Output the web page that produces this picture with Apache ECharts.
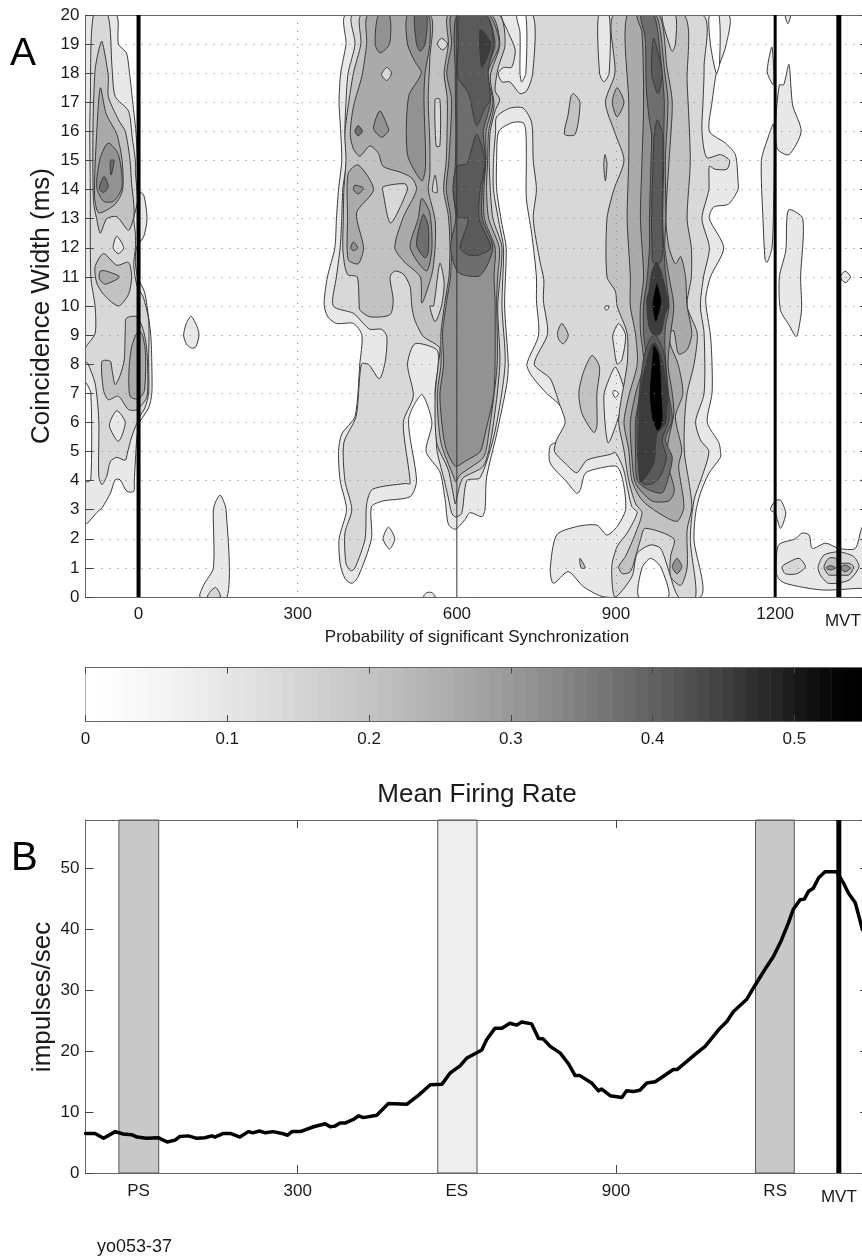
<!DOCTYPE html>
<html>
<head>
<meta charset="utf-8">
<title>Coincidence width and mean firing rate</title>
<script src="https://cdn.jsdelivr.net/npm/echarts@6/dist/echarts.min.js"></script>
<style>
html, body { margin: 0; padding: 0; background: #fff; overflow: hidden; }
#main { width: 862px; height: 1257px; }
</style>
</head>
<body>
<div id="main"></div>
<script>
// contour bands: [level, [[time ms, width ms], ...]], painted in order
const leftRings = [
  [1, [[-100,20],[-42,20],[-38,19],[-23,18.7],[-17,18],[-11,17],[-5,16],[-2,15],[0,14],[10,13.8],[16,13],[10,12.4],[-4,12],[-6,11.5],[-2,11],[11,10.5],[16,10],[23,9],[25,8],[25,7],[19,6.5],[2,6],[-3,5.5],[-5,5],[-8,4],[-9,3.63],[-22,3.63],[-35,4.03],[-44,4.03],[-53,3.57],[-69,3.06],[-79,2.9],[-96,2.54],[-100,2.54]]],
  [0, [[-100,7.35],[-90,7],[-90,4.03],[-100,3.97]]],
  [2, [[-85,20],[-58,20],[-50,18.2],[-44,17.2],[-19,16.7],[-12,15.8],[-6,15],[-6,14.6],[-2,13.6],[-9,13],[-6,12.5],[-6,12],[-9,11.4],[-3,10.7],[9,10.3],[19,9.5],[19,8],[19,7],[12,6.5],[2,6.2],[-13,5.5],[-21,4.95],[-25,4.7],[-41,4.8],[-53,4.66],[-60,4.15],[-69,3.86],[-75,4.15],[-75,6.1],[-82,7.35],[-96,8.04],[-100,8.1],[-100,8.56],[-82,9.05],[-82,10],[-90,11],[-91,14],[-92,16],[-91,17]]],
  [3, [[-69,19.1],[-57,17.9],[-57,17.2],[-38,16.4],[-25,16],[-16,15],[-13,14.2],[-9,13.5],[-9,13.07],[-19,12.6],[-41,13.07],[-60,13],[-72,12.5],[-79,13],[-85,13.6],[-86,16],[-82,18.1],[-75,18.8]]],
  [4, [[-72,17.5],[-61,16.6],[-41,15.9],[-31,15],[-30,14],[-44,13.5],[-75,13.2],[-83,13.8],[-79,15.9]]],
  [5, [[-57,15.6],[-38,15.2],[-31,14.1],[-47,13.6],[-66,13.6],[-79,14.1],[-72,15.1]]],
  [6, [[-53,15],[-46,15],[-52,14.5]]],
  [6, [[-65,14.45],[-57,14.1],[-66,13.9],[-74,14.05]]],
  [1, [[-41,12.4],[-28,12],[-38,11.8],[-48,12]]],
  [3, [[-66,11.8],[-41,11.4],[-19,11.5],[-13,11],[-19,10.4],[-38,10],[-66,10.4],[-79,10.8],[-82,11.35]]],
  [4, [[-72,11.2],[-61,11.2],[-36,11],[-63,10.75],[-74,10.95]]],
  [1, [[-41,6.4],[-25,6],[-38,5.35],[-55,5.9]]],
  [3, [[-69,8.1],[-53,8.1],[-50,7.8],[-44,7.3],[-35,7.6],[-27,8.15],[-25,9.2],[-23,9.58],[-3,9.63],[10,9.1],[16,8.4],[16,6.9],[-3,6.44],[-19,6.44],[-38,6.9],[-57,6.78],[-66,7.1]]],
  [4, [[-3,9.07],[6,9.07],[13,8.4],[11,7.1],[0,6.8],[-16,6.9],[-18,7.8],[-13,8.6]]]
];

const outerRings = [
  [1, [[392,20],[391,19],[381,18],[378,17],[381,16],[383,15],[377,14],[373,13],[370,12],[356,11],[350,10.2],[351,9.9],[358,9.6],[373,9.4],[405,9.4],[421,9],[417,8],[408,6.2],[383,5.6],[377,5],[380,4],[392,3],[378,2],[380,1.15],[389,.64],[402,.47],[414,.7],[439,2],[439,3.1],[461,3.3],[512,3.45],[524,4],[509,6.1],[534,6.95],[553,6],[542,5],[568,4.3],[578,3.33],[584,2.5],[597,2.33],[615,2.65],[625,2.9],[647,2.76],[653,3],[656,4.1],[675,5.6],[694,7.3],[697,8],[690,10],[693,12],[685,12.8],[675,14],[675,15],[679,16],[704,16.3],[725,16.3],[730,16],[731,15],[731,13.7],[741,12.5],[750,11],[750,10.2],[754,9],[732,8],[741,7.6],[769,7],[791,6.65],[810,6.1],[795,5.4],[776,5.2],[776,4.6],[807,3.96],[826,3.56],[833,3.7],[842,4.25],[867,4.42],[902,4.48],[914,3.9],[918,3],[902,2.42],[883,2.13],[864,2.47],[826,2.42],[788,2.13],[776,.93],[782,.47],[810,.87],[839,.35],[879,0],[1059,0],[1047,1.96],[1050,2.88],[1059,3.56],[1075,4.25],[1097,4.8],[1097,5],[1094,5.3],[1072,6],[1081,7],[1081,8],[1078,9],[1069,10.2],[1078,11],[1103,12],[1076,13],[1084,13.4],[1112,13.5],[1130,14],[1130,14.3],[1125,15.2],[1106,15.6],[1076,16],[1081,17],[1089,18],[1095,18.3],[1108,19],[1110,20]]],
  [0, [[1076,20],[1078,19],[1089,18],[1095,18.3],[1094,20]]],
  [0, [[943,0],[949,1],[965,1.33],[984,1.04],[999,0]]],
  [2, [[405,20],[408,19],[395,18],[391,17],[389,16],[392,15],[385,14],[383,13],[380,12],[373,11],[367,10],[405,9.75],[424,9.4],[436,9.2],[458,9.2],[468,8.95],[465,8.1],[454,7.5],[433,8],[420,8],[410,6.2],[387,5.3],[389,4],[402,3],[389,2.2],[391,1.15],[400,.9],[408,1],[427,2],[430,3.2],[441,3.7],[502,3.9],[512,3.9],[499,6],[518,6.9],[507,8],[521,8.7],[562,8.5],[565,8],[559,7.1],[562,6.2],[562,5.1],[575,4.1],[584,3.4],[590,2.9],[597,2.75],[609,2.87],[619,4],[644,4.1],[672,5.7],[691,8],[685,10],[688,12],[680,12.8],[669,14],[669,15],[673,16],[675,16.5],[700,16.8],[725,16.8],[741,16.3],[744,15],[750,14],[744,13],[757,11.5],[764,10.9],[763,10.2],[771,9.05],[746,8],[776,7.5],[793,6.65],[804,6],[788,5.4],[784,5],[804,4.6],[826,4.27],[845,4.7],[889,4.9],[899,4.96],[914,4.4],[921,3.8],[930,3.1],[940,2.9],[921,2.2],[902,1.73],[892,1.04],[898,0],[930,.7],[940,1.5],[965,1.79],[984,1.67],[999,.93],[1018,0],[1050,0],[1040,1.96],[1047,3.33],[1062,4.13],[1075,5],[1059,5.4],[1050,6.03],[1066,7],[1066,9.06],[1059,10],[1065,11],[1076,12],[1062,13],[1075,14],[1076,14.8],[1087,14.7],[1109,14.7],[1114,15],[1097,15.2],[1071,15.1],[1062,16],[1064,17],[1066,18.2],[1061,20]]],
  [1, [[685,20],[697,19.4],[710,18.8],[703,18.2],[688,18.2],[678,18],[685,17.7],[700,17.7],[719,17.3],[732,17.4],[743,18],[743,20]]],
  [0, [[713,20],[719,19.4],[719,18],[722,17.7],[730,18],[730,20]]],
  [1, [[867,20],[869,18],[877,17.7],[887,18],[887,20]]],
  [1, [[905,9.4],[918,9],[911,8.15],[902,8],[896,8.6],[894,9]]],
  [1, [[899,7.9],[915,7.1],[905,6.2],[885,5.3],[877,6.9],[886,7.45]]],
  [0, [[896,7.1],[905,7],[899,6.85],[894,7]]],
  [1, [[880,10],[887,10],[883,9.85],[879,9.9]]],
  [3, [[879,15.2],[883,14.9],[880,14.3],[877,14.8]]],
  [3, [[820,17.3],[832,17],[823,15.9],[803,15.9],[810,16.6],[815,17.2]]],
  [3, [[798,9.4],[810,9],[801,8.7],[792,8.85],[790,9.1]]],
  [3, [[855,8.3],[869,7.9],[864,7],[864,5.85],[858,5.65],[836,6.3],[830,7],[839,7.75]]],
  [3, [[832,1.33],[842,1],[834,1]]]
];

const midRings = [
  [3, [[421,20],[419,19],[405,18],[395,16.85],[389,15.9],[391,15],[387,14],[386,13],[385,12],[389,11.35],[395,11.07],[412,11],[416,10],[417,9.86],[436,9.63],[474,9.7],[480,10.2],[474,11],[483,11.2],[499,11.1],[512,10.66],[515,10],[521,9.5],[537,8.95],[559,8.7],[568,8.55],[565,8],[559,6.9],[562,5.3],[584,4.36],[594,3.45],[597,3.2],[605,3.8],[612,4.1],[650,4.5],[666,5.6],[681,8],[677,10],[685,12],[668,13],[663,14],[661,15],[663,16],[672,16.7],[681,17.1],[672,17.4],[678,18.2],[691,19],[678,20]]],
  [4, [[433,20],[430,19],[421,17.9],[405,16.85],[399,15.9],[405,15.4],[417,15.15],[436,15.5],[452,15.25],[461,14.8],[493,14.6],[515,14.4],[524,14],[499,13.05],[483,12],[502,11.5],[531,11],[534,10.1],[553,11.1],[559,12],[559,12.95],[546,14],[549,14.5],[549,15.6],[546,17.1],[549,18.5],[549,20]]],
  [4, [[414,14.85],[443,14],[411,13.2],[424,12],[414,11.45],[395,11.6],[394,13.05],[395,14.55]]],
  [5, [[408,14.15],[424,14.05],[414,13.85],[405,14]]],
  [5, [[405,12.2],[413,12],[405,11.9],[400,12]]],
  [5, [[507,20],[507,19],[521,18.4],[533,18],[509,17.2],[507,15.2],[534,14.3],[541,14.8],[538,17.1],[540,18],[549,19],[546,20]]],
  [6, [[521,20],[524,19],[531,18.75],[540,19],[543,20]]],
  [5, [[452,20],[446,19],[455,18.7],[473,19],[473,20]]],
  [5, [[455,16.7],[471,16.1],[471,16],[458,15.8],[443,16.1]]],
  [6, [[414,16.2],[422,16],[414,15.85],[408,16]]],
  [5, [[534,13.7],[549,13.2],[553,12],[543,11.2],[512,12],[527,13]]],
  [6, [[537,13.15],[546,12.75],[546,11.85],[540,11.65],[524,12.1],[531,12.85]]],
  [2, [[461,14.1],[502,14.2],[507,14],[475,12.85],[461,13.9]]],
  [2, [[468,18.2],[477,18],[468,17.75],[458,17.95]]],
  [2, [[571,19.2],[583,19],[573,18.8],[563,19]]],
  [2, [[559,17.1],[568,17.1],[568,15.5],[561,15.5]]],
  [2, [[559,14.5],[563,13.9],[554,13.95]]],
  [2, [[568,11.47],[576,10.8],[571,10],[559,9.46],[549,10],[556,10]]],
  // band around 600 ms
  [4, [[584,20],[584,19],[576,18],[582,17.1],[580,15],[575,14],[584,13.1],[587,12],[585,11],[578,10.2],[570,9.06],[570,8],[563,6.9],[570,5.3],[594,4.13],[598,3.96],[606,4.2],[650,4.8],[660,5.6],[676,8],[675,10.2],[677,11],[680,12],[660,13],[656,14],[658,15],[660,16],[670,16.9],[663,17.9],[681,19],[665,20]]],
  [5, [[590,20],[590,19],[581,18],[590,17.1],[585,15],[580,14],[588,13.1],[590,12],[588,11],[581,10.2],[573,9.06],[575,8],[568,6.9],[578,5.2],[597,4.5],[619,4.7],[644,5],[653,5.6],[669,6.9],[672,8],[672,10.2],[670,11],[672,12],[652,13],[651,14],[655,15],[655,16],[668,17],[658,18],[680,19],[660,20]]],
  [6, [[600,20],[597,17.9],[598,16],[597,14.8],[593,14],[598,13],[588,12],[603,11.15],[644,11.05],[668,12],[648,13],[648,14],[654,15],[650,16],[663,17],[655,18],[672,19],[655,20]]],
  [7, [[606,20],[603,19],[601,17.9],[622,17.3],[637,16.2],[653,16.8],[663,17.1],[659,18.1],[669,19],[656,20]]],
  [7, [[637,15.9],[653,15],[644,14],[642,13],[664,12],[641,11.75],[622,11.75],[606,12],[622,13],[603,13.05],[593,14],[600,14.8],[619,14.9]]],
  [8, [[644,19.5],[664,19],[647,18.2]]]
];

const peakRings = [
  [3, [[896,20],[898,18],[880,17],[899,15.9],[915,15],[896,14],[883,13],[883,11],[899,10.5],[902,10],[921,9.06],[921,8],[905,6.1],[915,5.05],[924,4],[937,3.2],[949,2.9],[937,2.2],[918,1.4],[905,1.04],[912,.8],[927,.87],[937,1.4],[946,1.96],[955,2.36],[1009,2],[1003,1.4],[1003,.7],[1022,.4],[1034,1],[1034,2.3],[1043,3.1],[1037,4],[1029,4.94],[1029,6],[1034,7],[1047,8],[1053,9.06],[1034,10],[1042,11],[1042,12],[1034,13],[1040,15],[1034,17.7],[1028,20]]],
  [4, [[893,17],[902,17.5],[915,17],[902,16.5]]],
  [4, [[921,20],[924,17],[924,15],[921,13],[927,11],[927,10],[937,9],[940,8],[924,6.9],[915,6],[924,5.05],[930,4],[949,3.33],[981,2.88],[1015,2.6],[1028,3.1],[1018,4.5],[1024,5.05],[1012,6.2],[1026,7],[1017,8],[1002,8.7],[1002,9.1],[1009,9.15],[1018,8.35],[1034,8.5],[1043,9.06],[1034,10],[1031,11],[1022,11.7],[1012,11.45],[1000,12],[994,13],[1000,15],[1006,17],[996,18.2],[981,20]]],
  [2, [[987,20],[1000,19],[1006,18.75],[1012,19],[1012,20]]],
  [5, [[940,20],[949,19.4],[952,17],[949,15],[946,13],[952,11],[946,10],[946,9.15],[952,8],[937,7],[927,6],[930,4.8],[937,3.9],[968,3.3],[999,3.3],[1009,3.56],[1009,3.8],[996,4.7],[999,5.4],[1009,6.3],[1006,7],[998,8],[1003,9.06],[1009,10],[1000,11],[992,12],[994,13],[993,15],[998,17],[992,18],[976,20]]],
  [6, [[947,20],[955,19.2],[957,17.5],[962,16.5],[967,15.9],[966,15],[963,13],[963,12],[959,11],[952,10],[952,9.06],[957,8],[946,7],[937,6.1],[937,4.94],[940,4],[962,3.68],[987,3.58],[999,4.13],[1006,4.8],[993,5.4],[1006,6.1],[999,7],[994,8],[992,8.66],[993,9.3],[1000,10],[994,11],[990,12],[988,13],[990,15],[990,15.9],[991,17],[987,18],[972,20]]],
  [7, [[971,19.2],[987,18],[979,17.3],[968,17.9],[967,18.5]]],
  [7, [[978,16.4],[988,15.9],[988,15],[987,13],[988,12],[984,11.5],[970,11.5],[968,12],[967,13],[970,15],[972,15.9]]],
  [7, [[975,9],[990,8.4],[998,7],[1000,6.1],[987,5.4],[995,4.8],[985,4.2],[970,3.9],[950,3.9],[941,4.8],[940,6],[944,7],[952,8.2],[965,8.9]]],
  [8, [[977,11.5],[988,11],[999,10],[993,9.75],[984,9.06],[971,9],[962,9.3],[958,10.2],[962,10.5],[968,11.2]]],
  [9, [[977,10.8],[985,10.3],[985,10],[975,9.43],[968,10],[971,10.4]]],
  [8, [[975,8.7],[987,8.15],[996,7],[993,5.97],[977,5.6],[971,4.6],[946,3.96],[943,5.6],[946,7],[955,7.9],[968,8.7]]],
  [9, [[971,8.67],[982,8.3],[987,6.8],[988,6],[979,5.7],[968,6.1],[963,7],[967,8]]],
  [5, [[1006,1.04],[1015,1.33],[1024,1.04],[1015,.8]]]
];

const islandRings = [
  [1, [[99,9.65],[110,9.3],[114,9],[108,8.6],[100,8.55],[90,8.7],[85,9],[90,9.4]]],
  [1, [[154,3.5],[165,3],[167,0],[116,0],[123,.42],[141,1],[141,3],[146,3.3]]],
  [2, [[130,0],[136,.2],[145,.33],[151,.2],[154,0]]],
  [1, [[537,0],[543,.15],[553,.15],[559,0]]],
  [1, [[471,2.4],[483,2],[473,1.65],[461,2]]],
  [1, [[1194,18.9],[1197,17.6],[1185,18.05]]],
  [1, [[1226,18.3],[1233,16.9],[1249,16],[1226,15.2],[1204,15.4],[1201,16.3],[1208,17.6],[1216,17.6]]],
  [1, [[1219,20],[1224,19.7],[1229,20]]],
  [1, [[1197,16.25],[1185,15.7],[1174,15],[1177,13],[1181,11.6],[1185,11.5],[1194,12],[1197,13.5]]],
  [1, [[1225,13.3],[1252,13],[1248,11],[1250,10],[1248,9.6],[1240,8.95],[1226,9.35],[1210,9.86],[1208,11],[1220,11.9]]],
  [1, [[1332,11.2],[1342,11],[1332,10.8],[1323,11]]],
  [1, [[1210,3.33],[1220,2.88],[1210,2.36],[1200,2.88],[1191,3],[1200,3.3]]],
  [1, [[1375,4.5],[1364,4],[1375,3.5]]],
  [1, [[1207,1.8],[1238,2],[1251,2.2],[1264,2.13],[1270,1.67],[1295,1.85],[1320,1.67],[1351,1.67],[1364,2.4],[1375,2.4],[1375,.3],[1358,.3],[1289,.24],[1219,.47],[1204,.7],[1202,1.2]]],
  [2, [[1213,1.04],[1226,1.2],[1245,1.33],[1257,1.04],[1241,.8],[1219,.8]]],
  [2, [[1281,1.04],[1292,1.44],[1320,1.55],[1348,1.39],[1358,1.04],[1339,.58],[1301,.47],[1285,.76]]],
  [3, [[1292,1.04],[1301,1.33],[1314,1.33],[1320,1.16],[1339,1.16],[1348,1.04],[1339,.76],[1320,.76],[1301,.76]]],
  [5, [[1296,1],[1304,1.08],[1314,1],[1304,.93]]],
  [5, [[1323,1],[1332,1.1],[1342,1],[1332,.87]]]
];

const contourRings = [].concat(leftRings, outerRings, midRings, peakRings, islandRings);

// grey of each contour level, 0 is below the lowest contour
const levelColors = ['#ffffff', '#e8e8e8', '#d8d8d8', '#c2c2c2', '#aaaaaa', '#929292', '#6e6e6e', '#5a5a5a', '#3c3c3c', '#000000'];

const colorbarGrays = [255,254,252,250,248,246,244,241,239,236,233,230,228,225,222,219,216,213,210,207,204,201,198,195,191,188,184,181,177,174,170,166,162,158,154,150,146,141,137,132,127,122,117,112,107,102,97,91,86,80,74,68,62,55,48,42,36,29,22,16,10,5,2,0];
const colorbarMax = 0.552;

const topTickValues = [0, 300, 600, 900, 1200, 1320];
const topTickLabels = ['0', '300', '600', '900', '1200', '{m|MVT}'];
const bottomTickLabels = ['PS', '300', 'ES', '900', 'RS', '{m|MVT}'];

const topEvents = [[0, 4], [600, 1], [1200, 3], [1320, 5]];
const rateEvents = [[1320, 5]];

const rateWindows = [
  [-37, 38, '#c8c8c8'],
  [564, 638, '#eeeeee'],
  [1163, 1236, '#c8c8c8']
];

const firingRate = [
  [-100,6.5],[-82,6.5],[-66,5.7],[-44,6.8],[-29,6.4],[-13,6.3],[-3,5.9],[15,5.7],[37,5.8],[54,5.1],[69,5.4],[78,6],[94,6.1],[110,5.7],[125,5.8],[138,6.1],[144,5.9],[160,6.5],[173,6.5],[191,5.9],[207,6.8],[215,6.6],[228,6.9],[239,6.6],[254,6.8],[270,6.5],[281,6.2],[289,6.8],[305,6.8],[330,7.6],[352,8.1],[361,7.6],[370,7.7],[380,8.2],[389,8.2],[405,8.8],[415,9.4],[424,9.1],[449,9.5],[471,11.4],[506,11.3],[528,12.8],[550,14.5],[572,14.6],[587,16.4],
  [606,17.6],[619,18.9],[634,19.6],[647,20.2],[656,21.9],[672,23.8],[685,23.8],[700,24.6],[713,24.3],[722,24.8],[741,24.5],[754,22.1],[763,22],[776,20.8],[795,19.7],[810,18],[823,16],[832,16],[854,14.8],[867,13.5],[873,13.8],[889,12.7],[911,12.4],[920,13.5],[933,13.4],[945,13.6],[958,14.8],[974,15],[1008,17],[1015,17],[1033,18.3],[1052,19.7],[1068,20.8],[1096,23.8],[1109,24.9],[1121,26.5],[1146,28.5],[1159,30.4],[1184,33.9],[1197,35.6],[1212,38.3],[1225,41.1],[1234,43.3],[1247,44.9],[1255,45],[1263,46.3],[1272,46.8],[1282,48.5],[1294,49.5],[1316,49.5],[1329,47.6],[1338,46],[1351,44.4],[1363,40.5],[1370,38.9]
];

const FONT = '"Liberation Sans", Arial, sans-serif';
const TEXT = '#1a1a1a';
const AXIS = '#666666';

var chart = echarts.init(document.getElementById('main'));

function eventSeries(events, xIndex, yIndex, yMax) {
  return events.map(function (e) {
    return {
      type: 'line',
      xAxisIndex: xIndex,
      yAxisIndex: yIndex,
      data: [[e[0], 0], [e[0], yMax]],
      symbol: 'none',
      silent: true,
      z: 6,
      lineStyle: { color: e[1] > 1 ? '#000' : '#333', width: e[1] }
    };
  });
}

var axisLineStyle = { show: true, onZero: false, lineStyle: { color: AXIS } };

function sideAxis(gridIndex, position, opts) {
  return Object.assign({
    type: 'value',
    gridIndex: gridIndex,
    position: position,
    axisLine: axisLineStyle,
    axisTick: { show: true, inside: true, length: 8, lineStyle: { color: '#444' } },
    axisLabel: { show: false },
    splitLine: { show: false }
  }, opts);
}

var topRich = { m: { fontFamily: FONT, fontSize: 17, color: TEXT, padding: [7, 0, 0, 8] } };
var bottomRich = { m: { fontFamily: FONT, fontSize: 17, color: TEXT, padding: [6, 0, 0, 0] } };

var option = {
  animation: false,
  textStyle: { fontFamily: FONT },
  grid: [
    { left: 85.5, top: 15, width: 782.5, height: 582, outerBoundsMode: 'none' },
    { left: 85.5, top: 667.5, width: 782.5, height: 53.5, outerBoundsMode: 'none' },
    { left: 85.5, top: 820, width: 782.5, height: 353, outerBoundsMode: 'none' }
  ],
  xAxis: [
    {
      type: 'value', gridIndex: 0, min: -100, max: 1375,
      axisLine: axisLineStyle,
      axisTick: { show: false, customValues: [300, 900] },
      splitLine: { show: true, lineStyle: { color: '#888', type: [1, 7] } },
      axisLabel: {
        customValues: topTickValues, margin: 9, fontSize: 17, color: TEXT, rich: topRich,
        formatter: function (v) { return topTickLabels[topTickValues.indexOf(v)]; }
      },
      z: 4
    },
    {
      type: 'value', gridIndex: 0, position: 'top', min: -100, max: 1375,
      axisLine: axisLineStyle,
      axisTick: { show: false }, axisLabel: { show: false }, splitLine: { show: false }, z: 4
    },
    {
      type: 'value', gridIndex: 1, min: 0, max: colorbarMax, interval: 0.1,
      axisLine: axisLineStyle,
      axisTick: { inside: true, length: 6, lineStyle: { color: '#444' } },
      axisLabel: {
        margin: 10, fontSize: 17, color: TEXT, hideOverlap: false, showMaxLabel: false,
        formatter: function (v) { return String(+v.toFixed(1)); }
      },
      splitLine: { show: false }, z: 4
    },
    {
      type: 'value', gridIndex: 1, position: 'top', min: 0, max: colorbarMax, interval: 0.1,
      axisLine: axisLineStyle,
      axisTick: { inside: true, length: 6, lineStyle: { color: '#444' } },
      axisLabel: { show: false }, splitLine: { show: false }, z: 4
    },
    {
      type: 'value', gridIndex: 2, min: -100, max: 1375,
      axisLine: axisLineStyle,
      axisTick: { inside: true, length: 8, customValues: [300, 900], lineStyle: { color: '#444' } },
      splitLine: { show: false },
      axisLabel: {
        customValues: topTickValues, margin: 10, fontSize: 17, color: TEXT, rich: bottomRich,
        formatter: function (v) { return bottomTickLabels[topTickValues.indexOf(v)]; }
      },
      z: 4
    },
    {
      type: 'value', gridIndex: 2, position: 'top', min: -100, max: 1375,
      axisLine: axisLineStyle,
      axisTick: { inside: true, length: 8, customValues: [300, 900], lineStyle: { color: '#444' } },
      axisLabel: { show: false }, splitLine: { show: false }, z: 4
    }
  ],
  yAxis: [
    sideAxis(0, 'left', {
      min: 0, max: 20, interval: 1, z: 4,
      axisLabel: { show: true, margin: 6, fontSize: 17, color: TEXT, showMaxLabel: true, showMinLabel: true },
      splitLine: { show: true, lineStyle: { color: '#888', type: [1, 7] } }
    }),
    sideAxis(0, 'right', { min: 0, max: 20, interval: 1, z: 4 }),
    sideAxis(1, 'left', { min: 0, max: 1, axisTick: { show: false } }),
    sideAxis(1, 'right', { min: 0, max: 1, axisTick: { show: false } }),
    sideAxis(2, 'left', {
      min: 0, max: 58, interval: 10, z: 4,
      axisLabel: { show: true, margin: 6, fontSize: 17, color: TEXT, showMaxLabel: false }
    }),
    sideAxis(2, 'right', { min: 0, max: 58, interval: 10, z: 4 })
  ],
  series: [
    {
      // filled contour bands
      type: 'custom',
      xAxisIndex: 0,
      yAxisIndex: 0,
      coordinateSystem: 'cartesian2d',
      clip: true,
      silent: true,
      z: 2,
      data: contourRings.map(function (r, i) { return [r[1][0][0], r[1][0][1], i]; }),
      renderItem: function (params, api) {
        var ring = contourRings[api.value(2)];
        return {
          type: 'polygon',
          shape: { points: ring[1].map(function (p) { return api.coord(p); }), smooth: 0.25 },
          style: { fill: levelColors[ring[0]], stroke: '#3a3a3a', lineWidth: 1 }
        };
      }
    },
    {
      // colour scale cells
      type: 'custom',
      xAxisIndex: 2,
      yAxisIndex: 2,
      coordinateSystem: 'cartesian2d',
      silent: true,
      z: 2,
      data: colorbarGrays.map(function (g, i) {
        return [i * colorbarMax / colorbarGrays.length, (i + 1) * colorbarMax / colorbarGrays.length, g];
      }),
      renderItem: function (params, api) {
        var a = api.coord([api.value(0), 1]);
        var b = api.coord([api.value(1), 0]);
        var g = api.value(2);
        return {
          type: 'rect',
          shape: { x: a[0], y: a[1], width: b[0] - a[0] + 0.5, height: b[1] - a[1] },
          style: { fill: 'rgb(' + g + ',' + g + ',' + g + ')' }
        };
      }
    },
    {
      // shaded windows in panel B
      type: 'custom',
      xAxisIndex: 4,
      yAxisIndex: 4,
      coordinateSystem: 'cartesian2d',
      silent: true,
      z: 2,
      data: rateWindows.map(function (w) { return [w[0], w[1], 58, w[2]]; }),
      encode: { x: [0, 1], y: 2 },
      renderItem: function (params, api) {
        var a = api.coord([api.value(0), 58]);
        var b = api.coord([api.value(1), 0]);
        return {
          type: 'rect',
          shape: { x: a[0], y: a[1], width: b[0] - a[0], height: b[1] - a[1] },
          style: { fill: rateWindows[params.dataIndex][2], stroke: '#555', lineWidth: 1 }
        };
      }
    },
    {
      type: 'line',
      xAxisIndex: 4,
      yAxisIndex: 4,
      data: firingRate,
      symbol: 'none',
      silent: true,
      z: 5,
      lineStyle: { color: '#000', width: 3.5, join: 'round', cap: 'round' }
    }
  ].concat(eventSeries(topEvents, 0, 0, 20), eventSeries(rateEvents, 4, 4, 58)),
  graphic: [
    { type: 'text', left: 10, top: 35, style: { text: 'A', font: '39px ' + FONT, fill: '#000' } },
    { type: 'text', left: 11, top: 839, style: { text: 'B', font: '40px ' + FONT, fill: '#000' } },
    { type: 'text', x: 42, y: 306, rotation: Math.PI / 2, style: { text: 'Coincidence Width (ms)', font: '26px ' + FONT, fill: TEXT, align: 'center', verticalAlign: 'middle' } },
    { type: 'text', x: 43, y: 997, rotation: Math.PI / 2, style: { text: 'impulses/sec', font: '26px ' + FONT, fill: TEXT, align: 'center', verticalAlign: 'middle' } },
    { type: 'text', x: 477, y: 637, style: { text: 'Probability of significant Synchronization', font: '17px ' + FONT, fill: TEXT, align: 'center', verticalAlign: 'middle' } },
    { type: 'text', x: 477, y: 795, style: { text: 'Mean Firing Rate', font: '26px ' + FONT, fill: TEXT, align: 'center', verticalAlign: 'middle' } },
    { type: 'text', x: 97, y: 1247, style: { text: 'yo053-37', font: '18px ' + FONT, fill: TEXT, align: 'left', verticalAlign: 'middle' } }
  ]
};

chart.setOption(option);
</script>
</body>
</html>
